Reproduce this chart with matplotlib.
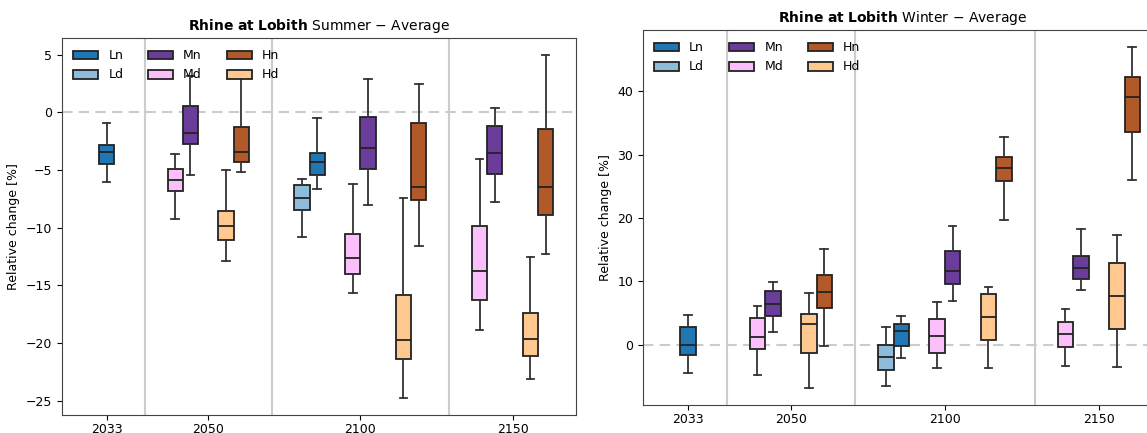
import numpy as np
import matplotlib
matplotlib.use("Agg")
from matplotlib import pyplot as plt
from matplotlib.patches import Patch

# periods on the x axis and the scenarios shown in each period
periods = ["2033", "2050", "2100", "2150"]
period_scen = {"2033": ["L"], "2050": ["M", "H"], "2100": ["L", "M", "H"], "2150": ["M", "H"]}

# box stats per series: [whislo, q1, median, q3, whishi] for each period
summer = {
    "Ln": {"2033": [-6.0, -4.5, -3.46, -2.83, -0.9], "2100": [-6.66, -5.45, -4.3, -3.49, -0.52]},
    "Ld": {"2100": [-10.76, -8.48, -7.44, -6.29, -5.77]},
    "Mn": {"2050": [-5.4, -2.72, -1.76, 0.57, 3.14], "2100": [-8.02, -4.88, -3.11, -0.41, 2.88],
           "2150": [-7.79, -5.34, -3.52, -1.19, 0.4]},
    "Md": {"2050": [-9.23, -6.8, -5.9, -4.88, -3.63], "2100": [-15.66, -14.01, -12.63, -10.53, -6.17],
           "2150": [-18.86, -16.26, -13.75, -9.84, -4.01]},
    "Hn": {"2050": [-5.19, -4.3, -3.43, -1.24, 3.3], "2100": [-11.57, -7.56, -6.43, -0.93, 2.47],
           "2150": [-12.23, -8.91, -6.43, -1.47, 4.96]},
    "Hd": {"2050": [-12.86, -11.05, -9.84, -8.54, -5.02], "2100": [-24.74, -21.37, -19.75, -15.83, -7.41],
           "2150": [-23.1, -21.14, -19.61, -17.39, -12.57]},
}
winter = {
    "Ln": {"2033": [-4.42, -1.64, -0.11, 2.84, 4.67], "2100": [-2.11, -0.16, 2.15, 3.25, 4.46]},
    "Ld": {"2100": [-6.53, -4.0, -2.0, -0.06, 2.78]},
    "Mn": {"2050": [1.99, 4.46, 6.36, 8.46, 9.94], "2100": [6.94, 9.56, 11.67, 14.83, 18.77],
           "2150": [8.68, 10.3, 12.14, 13.98, 18.34]},
    "Md": {"2050": [-4.79, -0.63, 1.2, 4.26, 6.04], "2100": [-3.74, -1.32, 1.36, 4.1, 6.72],
           "2150": [-3.31, -0.37, 1.62, 3.63, 5.57]},
    "Hn": {"2050": [-0.22, 5.77, 8.3, 10.98, 15.03], "2100": [19.72, 25.8, 27.86, 29.6, 32.8],
           "2150": [26.07, 33.6, 39.16, 42.32, 47.0]},
    "Hd": {"2050": [-6.84, -1.26, 3.2, 4.89, 8.14], "2100": [-3.63, 0.79, 4.31, 7.98, 9.09],
           "2150": [-3.53, 2.46, 7.67, 12.93, 17.24]},
}

colors = {"Ln": "#1f77b4", "Ld": "#8fbbda", "Mn": "#6a3d9a", "Md": "#fbbffc",
          "Hn": "#b15928", "Hd": "#fec88f"}
legend_order = ["Ln", "Ld", "Mn", "Md", "Hn", "Hd"]

plt.rcParams["font.family"] = "DejaVu Sans"
plt.rcParams["font.size"] = 9
plt.rcParams["xtick.major.pad"] = 2.5

W = 0.3


def layout():
    # slot centre for each (period, scenario); 1.5 gap between periods
    slots = {}
    pos = 0.0
    seps = []
    for i, p in enumerate(periods):
        if i > 0:
            seps.append(pos - 0.75)
        for s in period_scen[p]:
            slots[(p, s)] = pos
            pos += 1
        pos += 0.5
    return slots, seps


def draw(ax, data, title):
    slots, seps = layout()
    stats, pos, cols = [], [], []
    tick_pos = {p: [] for p in periods}
    for (p, s), c in slots.items():
        present = [k for k in (s + "d", s + "n") if p in data[k]]
        offs = [0.0] if len(present) == 1 else [-W / 2, W / 2]
        for k, o in zip(present, offs):
            lo, q1, med, q3, hi = data[k][p]
            stats.append(dict(whislo=lo, q1=q1, med=med, q3=q3, whishi=hi, fliers=[]))
            pos.append(c + o)
            cols.append(colors[k])
            tick_pos[p].append(c + o)

    for x in seps:
        ax.axvline(x, color="#cccccc", lw=1.5, zorder=0)
    ax.axhline(0, color="#cccccc", lw=1.5, ls=(0, (5, 3)), zorder=0)

    bp = ax.bxp(stats, positions=pos, widths=W, patch_artist=True, showfliers=False,
                boxprops=dict(edgecolor="#222222", linewidth=1.3),
                medianprops=dict(color="#222222", linewidth=1.3),
                whiskerprops=dict(color="#333333", linewidth=1.3),
                capprops=dict(color="#333333", linewidth=1.3))
    for b, c in zip(bp["boxes"], cols):
        b.set_facecolor(c)

    ax.set_xticks([np.mean(tick_pos[p]) for p in periods])
    ax.set_xticklabels(periods)
    ax.set_xlim(-0.88, 9.25)
    ax.set_ylabel("Relative change [%]")
    ax.set_title(r"$\bf{Rhine\ at\ Lobith}$ " + title, fontsize=10)
    for sp in ax.spines.values():
        sp.set_color("#444444")

    handles = [Patch(facecolor=colors[k], edgecolor="#222222", linewidth=1.3, label=k)
               for k in legend_order]
    ax.legend(handles=handles, ncol=3, loc="upper left", frameon=False, fontsize=9)


fig = plt.figure(figsize=(11.47, 4.33), dpi=100)
ax1 = fig.add_axes([62 / 1147, 18 / 433, 514 / 1147, 377 / 433])
ax2 = fig.add_axes([643 / 1147, 28 / 433, 520 / 1147, 375 / 433])

draw(ax1, summer, "Summer \u2212 Average")
draw(ax2, winter, "Winter \u2212 Average")

fig.savefig("out.png", dpi=100)
